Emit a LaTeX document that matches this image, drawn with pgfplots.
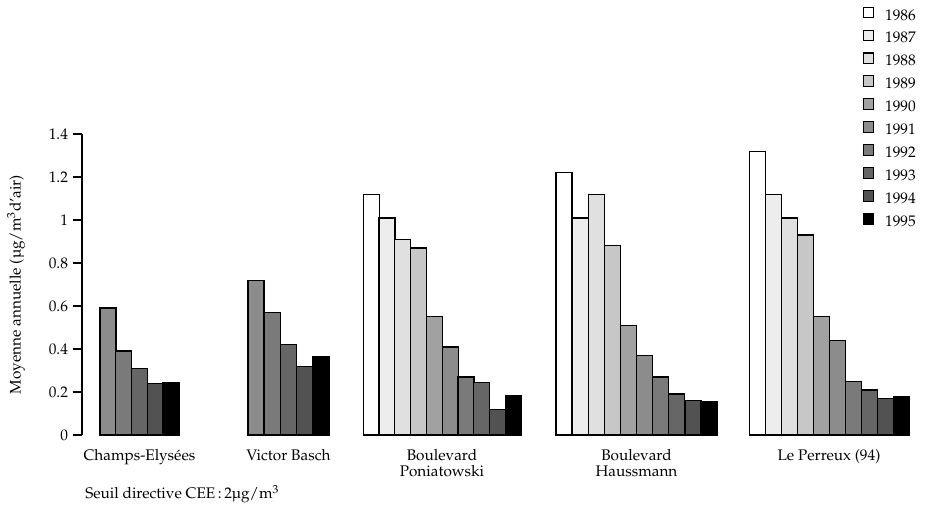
\documentclass[border=0pt]{standalone}
\usepackage[T1]{fontenc}
\usepackage{mathpazo}
\usepackage{textcomp}
\usepackage{pgfplots}
\pgfplotsset{compat=1.18}

\definecolor{c86}{gray}{1}
\definecolor{c87}{gray}{0.93}
\definecolor{c88}{gray}{0.88}
\definecolor{c89}{gray}{0.78}
\definecolor{c90}{gray}{0.63}
\definecolor{c91}{gray}{0.55}
\definecolor{c92}{gray}{0.48}
\definecolor{c93}{gray}{0.40}
\definecolor{c94}{gray}{0.32}
\definecolor{c95}{gray}{0}

\newcommand{\lab}{\fontsize{11.5}{12}\selectfont}

\begin{document}
\begin{tikzpicture}
\begin{axis}[
  at={(61.5pt,60.75pt)}, anchor=south west,
  scale only axis, width=628.5pt, height=225.75pt,
  xmin=82, xmax=920, ymin=0, ymax=1.4,
  clip=false,
  axis lines*=left,
  x axis line style={draw=none},
  y axis line style={line width=0.9pt},
  tick align=outside, major tick length=7pt,
  ytick={0,0.2,0.4,0.6,0.8,1,1.2,1.4},
  ytick style={line width=0.8pt, black},
  yticklabel style={font=\lab},
  xtick={139.5,288.5,442,636.5,829},
  xticklabels={Champs-Elys\'ees, Victor Basch, {Boulevard\\Poniatowski}, {Boulevard\\Haussmann}, Le Perreux (94)},
  xtick style={draw=none},
  xticklabel style={align=center, font=\lab},
  ylabel={Moyenne annuelle (\textmu g/m\textsuperscript{3}d'air)},
  ylabel style={at={(axis description cs:-0.0788,0.5)}, anchor=center, font=\lab},
  legend style={draw=none, fill=none, inner sep=0pt, outer sep=0pt,
    at={(axis description cs:0.9316,1.4233)}, anchor=north west,
    row sep=7.1pt, column sep=8pt,
    nodes={inner sep=0pt, font=\lab, text height=8pt, text depth=0pt}},
  legend cell align=left,
  legend image code/.code={\draw[#1, line width=0.8pt] (0pt,-2.3pt) rectangle (8pt,5.7pt);},
  mybar/.style={ybar, bar width=16, bar shift=0pt, draw=black, line width=1pt},
]
% 1986
\addplot[mybar, fill=c86] coordinates {(371.2,1.12) (564.1,1.22) (757.3,1.32)};
\addlegendentry{1986}
% 1987
\addplot[mybar, fill=c87] coordinates {(387.0,1.01) (580.2,1.01) (773.3,1.12)};
\addlegendentry{1987}
% 1988
\addplot[mybar, fill=c88] coordinates {(402.8,0.91) (596.3,1.12) (789.3,1.01)};
\addlegendentry{1988}
% 1989
\addplot[mybar, fill=c89] coordinates {(418.6,0.87) (612.4,0.88) (805.3,0.93)};
\addlegendentry{1989}
% 1990
\addplot[mybar, fill=c90] coordinates {(434.4,0.55) (628.5,0.51) (821.3,0.55)};
\addlegendentry{1990}
% 1991
\addplot[mybar, fill=c91] coordinates {(107.9,0.59) (256.1,0.72) (450.2,0.41) (644.6,0.37) (837.3,0.44)};
\addlegendentry{1991}
% 1992
\addplot[mybar, fill=c92] coordinates {(123.7,0.39) (272.3,0.57) (466.0,0.27) (660.7,0.27) (853.3,0.25)};
\addlegendentry{1992}
% 1993
\addplot[mybar, fill=c93] coordinates {(139.5,0.31) (288.5,0.42) (481.8,0.245) (676.8,0.19) (869.3,0.21)};
\addlegendentry{1993}
% 1994
\addplot[mybar, fill=c94] coordinates {(155.3,0.24) (304.7,0.32) (497.6,0.12) (692.9,0.16) (885.3,0.17)};
\addlegendentry{1994}
% 1995
\addplot[mybar, fill=c95] coordinates {(171.1,0.245) (320.9,0.365) (513.4,0.185) (709.0,0.155) (901.3,0.18)};
\addlegendentry{1995}
\end{axis}
\node[anchor=base west, inner sep=0pt, font=\lab] at (63.75pt,12.75pt)
  {Seuil directive CEE\,:\,2\textmu g/m\textsuperscript{3}};
\pgfresetboundingbox
\path (0pt,0pt) rectangle (696pt,387pt);
\end{tikzpicture}
\end{document}
